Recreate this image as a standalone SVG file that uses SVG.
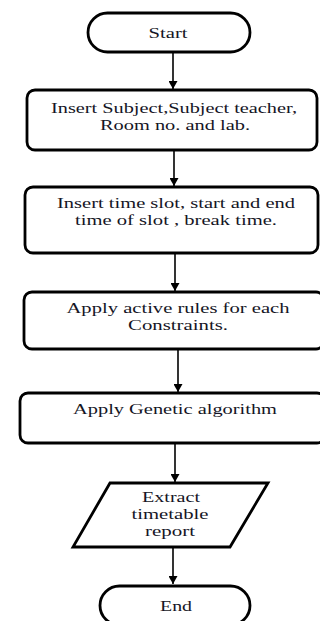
<svg xmlns="http://www.w3.org/2000/svg" width="320" height="621" viewBox="0 0 320 621">
<style>
.sh{fill:#fff;stroke:#000;stroke-width:2.8}
.t{font-family:"Liberation Serif","Times New Roman",serif;font-size:15.2px;fill:#151525;text-anchor:middle}
.c{stroke:#000;stroke-width:1.6;fill:none;marker-end:url(#ah)}
</style>
<defs>
<marker id="ah" markerWidth="9" markerHeight="9" refX="8" refY="4.5" orient="auto" markerUnits="userSpaceOnUse">
<path d="M0,0 L8,4.5 L0,9 Z" fill="#000"/>
</marker>
</defs>
<rect width="320" height="621" fill="#fff"/>
<g id="connectors">
<line class="c" x1="173" y1="52" x2="173" y2="89"/>
<line class="c" x1="174" y1="150" x2="174" y2="186"/>
<line class="c" x1="175" y1="253" x2="175" y2="291"/>
<line class="c" x1="178" y1="349" x2="178" y2="392"/>
<line class="c" x1="175" y1="443" x2="175" y2="482"/>
<line class="c" x1="173" y1="547" x2="173" y2="584"/>
</g>
<g id="start">
<rect class="sh" x="88" y="13" width="162" height="39" rx="19.5"/>
<text class="t" x="168" y="38" textLength="39" lengthAdjust="spacingAndGlyphs">Start</text>
</g>
<g id="insert-subject">
<rect class="sh" x="27" y="90" width="290" height="60" rx="8"/>
<text class="t" x="174" y="113" textLength="246" lengthAdjust="spacingAndGlyphs">Insert Subject,Subject teacher,</text>
<text class="t" x="175" y="130" textLength="150" lengthAdjust="spacingAndGlyphs">Room no. and lab.</text>
</g>
<g id="insert-time">
<rect class="sh" x="25" y="187" width="293" height="66" rx="8"/>
<text class="t" x="176" y="208" textLength="238" lengthAdjust="spacingAndGlyphs">Insert time slot, start and end</text>
<text class="t" x="176" y="225" textLength="202" lengthAdjust="spacingAndGlyphs">time of slot , break time.</text>
</g>
<g id="apply-rules">
<rect class="sh" x="24" y="292" width="300" height="57" rx="8"/>
<text class="t" x="178" y="313" textLength="223" lengthAdjust="spacingAndGlyphs">Apply active rules for each</text>
<text class="t" x="178" y="330" textLength="100" lengthAdjust="spacingAndGlyphs">Constraints.</text>
</g>
<g id="apply-ga">
<rect class="sh" x="20" y="393" width="305" height="50" rx="8"/>
<text class="t" x="175" y="414" textLength="204" lengthAdjust="spacingAndGlyphs">Apply Genetic algorithm</text>
</g>
<g id="extract">
<polygon class="sh" points="110,483 268,483 230,547 73,547"/>
<text class="t" x="171" y="502" textLength="58" lengthAdjust="spacingAndGlyphs">Extract</text>
<text class="t" x="170" y="519" textLength="77" lengthAdjust="spacingAndGlyphs">timetable</text>
<text class="t" x="170" y="536" textLength="50" lengthAdjust="spacingAndGlyphs">report</text>
</g>
<g id="end">
<rect class="sh" x="100" y="586" width="150" height="39" rx="19.5"/>
<text class="t" x="176" y="611" textLength="32" lengthAdjust="spacingAndGlyphs">End</text>
</g>
</svg>
